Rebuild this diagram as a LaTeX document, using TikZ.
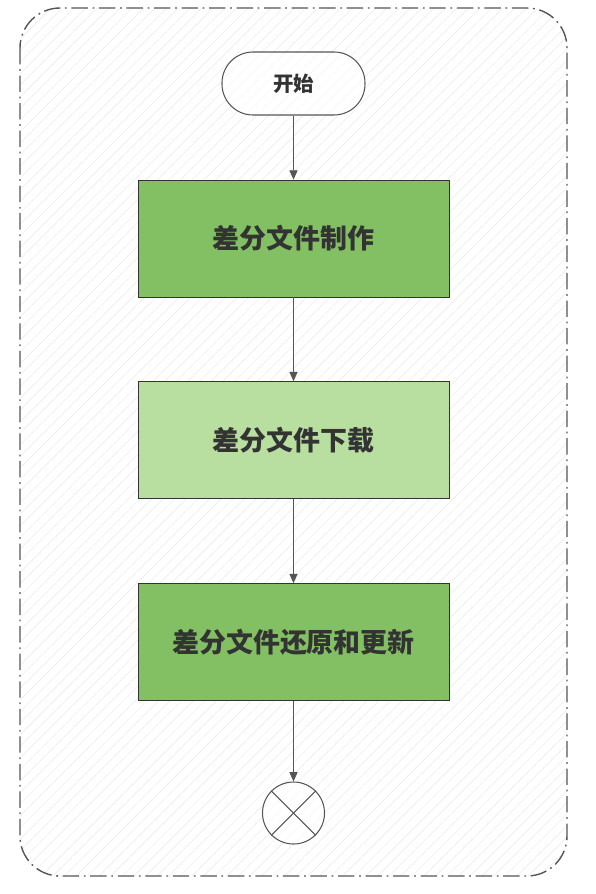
\documentclass[tikz,border=0pt]{standalone}
\usepackage{fontspec}
\newfontfamily\cjk{Noto Sans CJK SC}
\usetikzlibrary{patterns.meta,arrows.meta}
\definecolor{linegray}{HTML}{555555}
\definecolor{textgray}{HTML}{333333}
\definecolor{stepgreen}{HTML}{82C063}
\definecolor{lightgreen}{HTML}{B8DFA0}
\tikzset{
    flowbox/.style = {rectangle, draw = textgray, line width = .6pt, minimum width = 311*0.03cm, minimum height = 117*0.03cm, font = \cjk\bfseries\fontsize{23}{26}\selectfont, text = textgray},
    flowarrow/.style = {draw = linegray, line width = .7pt, -{Triangle[length=8pt, width=7pt]}}
}
\begin{document}
\begin{tikzpicture}[x = 0.03cm, y = -0.03cm]
            \useasboundingbox (0,0) rectangle (596,894);
            % Draw the hatched frame:
            \draw [rounded corners = 1.2cm, pattern = {Lines[angle = 45, distance = 7pt, line width = .4pt]}, pattern color = black!9,
                   draw = linegray, line width = 1.2pt, dash pattern = on 14pt off 4pt on 1.5pt off 4pt]
                (20,8) rectangle (567,876);
            
            % Draw the steps:
            \node [rectangle, rounded corners = 31*0.03cm, draw = linegray, line width = .9pt, fill = white, fill opacity = .6, text opacity = 1,
                   minimum width = 143*0.03cm, minimum height = 63*0.03cm, font = \cjk\bfseries\fontsize{17.5}{20}\selectfont, text = textgray]
                (Start) at (293.5,83.5) {开始};
            \node [flowbox, fill = stepgreen] (Make)     at (293.5,238.5) {差分文件制作};
            \node [flowbox, fill = lightgreen] (Download) at (293.5,440)   {差分文件下载};
            \node [flowbox, fill = stepgreen] (Restore)  at (293.5,642)   {差分文件还原和更新};
            \node [circle, draw = linegray, line width = .9pt, fill = white, fill opacity = .6, minimum size = 62*0.03cm] (End) at (293.5,813) {};
            \draw [linegray, line width = .9pt] (End.45) -- (End.225) (End.135) -- (End.315);
            
            % Draw the connectors:
            \foreach \from/\to in {Start/Make, Make/Download, Download/Restore, Restore/End}
                \draw [flowarrow] (\from) -- (\to);
        \end{tikzpicture}
\end{document}
